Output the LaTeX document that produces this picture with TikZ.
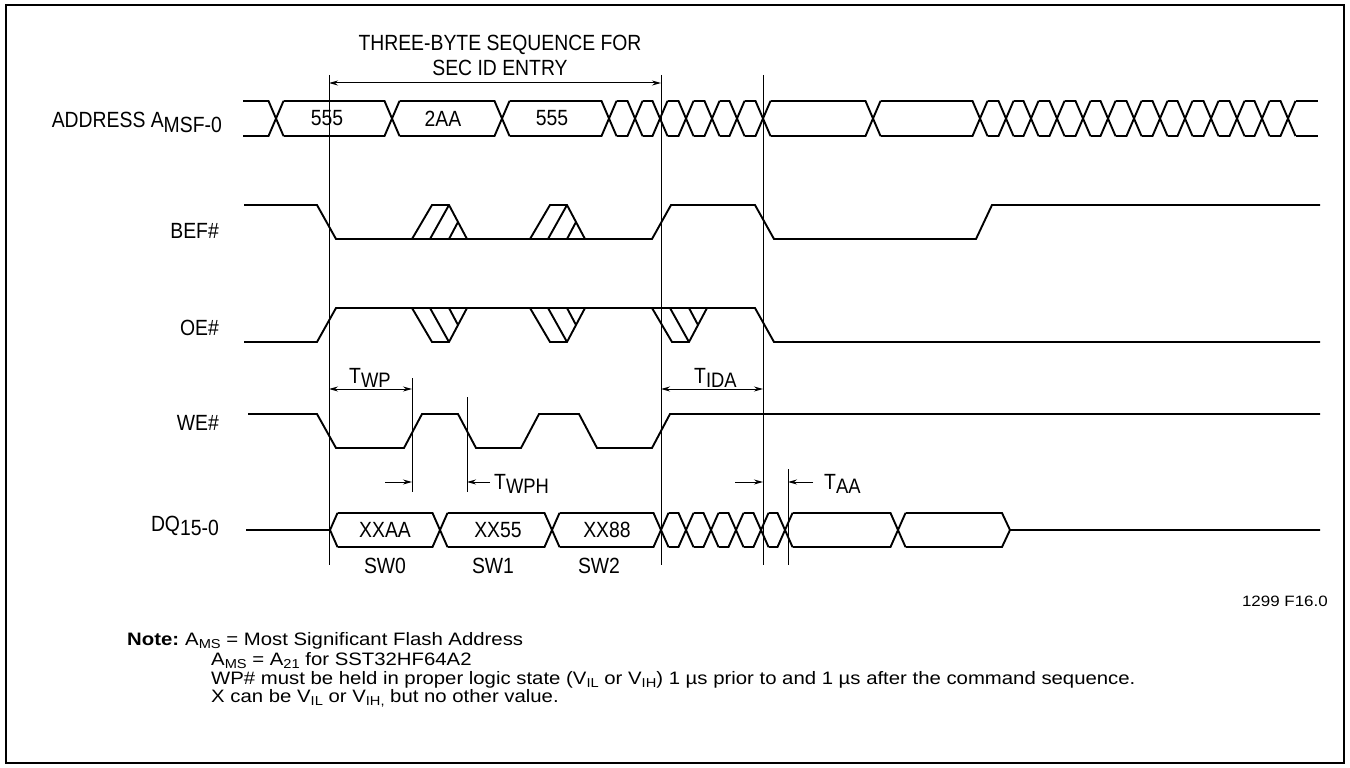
\documentclass[tikz,border=0pt]{standalone}
\usepackage{fontspec}
\setmainfont{Liberation Sans}[FakeStretch=0.88]
\newfontfamily\notefont{Liberation Sans}[FakeStretch=1.13]
\usepackage{tikz}
\usetikzlibrary{arrows.meta}
\tikzstyle{signal} = [line width=1.9pt]
\tikzstyle{marker} = [line width=1pt]
\tikzstyle{dim} = [line width=1pt, >={Stealth[length=9pt,width=5pt]}]
\tikzstyle{lbl} = [anchor=base east, inner sep=0pt, font=\fontsize{22}{25}\selectfont]
\tikzstyle{tlbl} = [anchor=base west, inner sep=0pt, font=\fontsize{22}{25}\selectfont]
\tikzstyle{val} = [inner sep=0pt, font=\fontsize{22}{25}\selectfont]
\tikzstyle{note} = [anchor=base west, inner sep=0pt, font=\notefont\fontsize{18}{20}\selectfont]
\newcommand{\lowtxt}[1]{\raisebox{-0.4ex}{#1}}
\newcommand{\notesub}[1]{\raisebox{-0.4ex}{\scalebox{0.72}{#1}}}

\begin{document}
\begin{tikzpicture}[x=1pt, y=-1pt]
\useasboundingbox (0,0) rectangle (1350,768);
\draw[line width=2.6pt] (6,5) rectangle (1344,763);

% address bus
\foreach \c [remember=\c as \p (initially 235.5)] in {276,392,502,609,635,660,686,712,737,763,873,980,1006,1031,1057,1083,1108,1134,1160,1185,1211,1237,1262,1288}
  \draw[signal] (\p+7.5,101) -- (\c-7.5,101) -- (\c+7.5,136)
                (\p+7.5,136) -- (\c-7.5,136) -- (\c+7.5,101);
\draw[signal] (1295.5,101) -- (1318,101) (1295.5,136) -- (1318,136);
\node[val] (a1) at (327,118.5) {555};
\node[val] (a2) at (443,118.5) {2AA};
\node[val] (a3) at (552,118.5) {555};

% BEF# and OE#
\draw[signal] (244,205) -- (317,205) -- (336,239) -- (652,239) -- (671,205) -- (755,205) -- (774,239) -- (976,239) -- (992,205) -- (1320,205);
\draw[signal] (244,342) -- (317,342) -- (336,308) -- (755,308) -- (774,342) -- (1320,342);
\foreach \g in {412,530}
  \draw[signal] (\g,239) -- (\g+20,205) -- (\g+37,205) -- (\g+55,239)
                (\g+18,239) -- (\g+37,205) (\g+37,239) -- (\g+46,222);
\foreach \g in {412,530,652}
  \draw[signal] (\g,308) -- (\g+20,342) -- (\g+37,342) -- (\g+55,308)
                (\g+18,308) -- (\g+37,342) (\g+37,308) -- (\g+46,325);

% WE#
\draw[signal] (248,414) -- (317,414) -- (336,448) -- (404,448) -- (422,414) -- (458,414) -- (476,448) -- (521,448) -- (539,414) -- (579,414) -- (597,448) -- (652,448) -- (670,414) -- (1320,414);

% DQ bus
\draw[signal] (246,530) -- (330,530) -- (337.5,513) (330,530) -- (337.5,547);
\foreach \c [remember=\c as \p (initially 330)] in {440,552,661,686,711,736,761,785,898}
  \draw[signal] (\p+7.5,513) -- (\c-7.5,513) -- (\c+7.5,547)
                (\p+7.5,547) -- (\c-7.5,547) -- (\c+7.5,513);
\draw[signal] (905.5,513) -- (1002,513) -- (1010,530) -- (1002,547) -- (905.5,547)
              (1010,530) -- (1320,530);
\node[val] (d1) at (385,530) {XXAA};
\node[val] (d2) at (498,530) {XX55};
\node[val] (d3) at (607,530) {XX88};
\node[val] (sw0) at (385,566) {SW0};
\node[val] (sw1) at (493,566) {SW1};
\node[val] (sw2) at (599,566) {SW2};

% row labels
\node[lbl] (addr) at (222,128) {ADDRESS A\lowtxt{MSF-0}};
\node[lbl] (bef) at (219,238) {BEF\#};
\node[lbl] (oe) at (219,335) {OE\#};
\node[lbl] (we) at (219,430) {WE\#};
\node[lbl] (dq) at (219,531) {DQ\lowtxt{15-0}};

% timing markers
\coordinate (seqL) at (329,75);
\coordinate (seqR) at (661,75);
\coordinate (ida) at (763,75);
\coordinate (wp) at (412,378);
\coordinate (wph) at (467,397);
\coordinate (aa) at (788,469);
\draw[marker] (seqL) -- (329,565) (seqR) -- (661,565) (ida) -- (763,565)
              (wp) -- (412,492) (wph) -- (467,492) (aa) -- (788,565);
\node[val, align=center, font=\fontsize{22}{25}\selectfont] (title) at (500,55) {THREE-BYTE SEQUENCE FOR\\SEC ID ENTRY};
\draw[dim, <->] (seqL |- 0,83) -- (seqR |- 0,83);
\draw[dim, <->] (seqL |- 0,389) -- (wp |- 0,389);
\draw[dim, <->] (seqR |- 0,389) -- (ida |- 0,389);
\node[tlbl] (twp) at (349,383) {T\lowtxt{\scalebox{0.95}{WP}}};
\node[tlbl] (tida) at (694,383) {T\lowtxt{\scalebox{0.95}{IDA}}};
\draw[dim, ->] (385,482) -- (wp |- 0,482);
\draw[dim, ->] (490,482) -- (wph |- 0,482);
\node[tlbl] (twph) at (494,489) {T\lowtxt{\scalebox{0.95}{WPH}}};
\draw[dim, ->] (735,482) -- (ida |- 0,482);
\draw[dim, ->] (813,482) -- (aa |- 0,482);
\node[tlbl] (taa) at (824,489) {T\lowtxt{\scalebox{0.95}{AA}}};

% notes
\node[anchor=base east, inner sep=0pt, font=\notefont\fontsize{15}{17}\selectfont] (fig) at (1328,606) {1299 F16.0};
\node[note, font=\notefont\bfseries\fontsize{18}{20}\selectfont] (notehd) at (127,645) {Note:};
\node[note] (note1) at (185,645) {A\notesub{MS} = Most Significant Flash Address};
\node[note] (note2) at (211,665) {A\notesub{MS} = A\notesub{21} for SST32HF64A2};
\node[note] (note3) at (211,684) {WP\# must be held in proper logic state (V\notesub{IL} or V\notesub{IH}) 1 µs prior to and 1 µs after the command sequence.};
\node[note] (note4) at (211,702) {X can be V\notesub{IL} or V\notesub{IH,} but no other value.};
\end{tikzpicture}
\end{document}
